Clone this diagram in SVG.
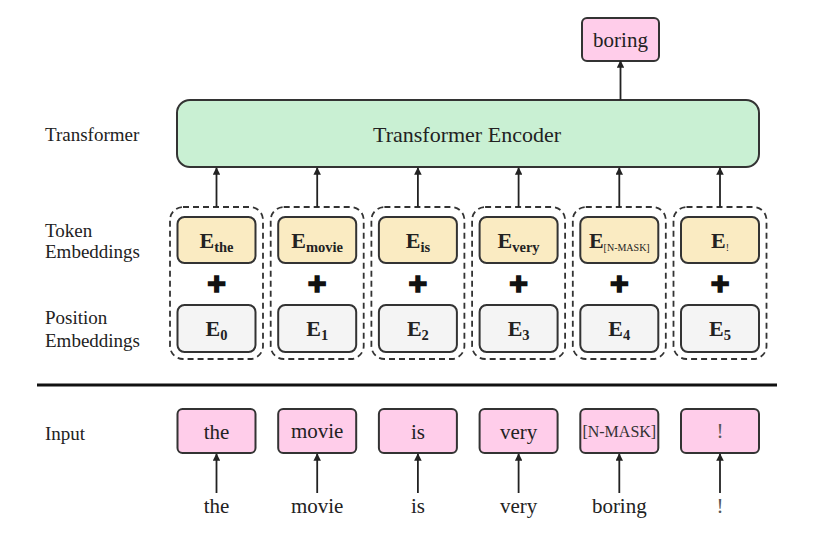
<svg xmlns="http://www.w3.org/2000/svg" width="835" height="538" viewBox="0 0 835 538">
<style>
  .lbl{font-family:"Liberation Serif","Times New Roman",serif;font-size:19px;fill:#222}
  .word{font-family:"Liberation Serif","Times New Roman",serif;font-size:21px;fill:#222;text-anchor:middle}
  .enc{font-family:"Liberation Serif","Times New Roman",serif;font-size:22px;fill:#222;text-anchor:middle}
  .emb{font-family:"Liberation Serif","Times New Roman",serif;font-size:22px;font-weight:bold;fill:#222;text-anchor:middle}
  .sub{font-size:14.5px}
  .tiny{font-size:10px;font-weight:normal}
  .plus{font-family:"Liberation Sans",Arial,sans-serif;font-size:32px;font-weight:bold;fill:#111;stroke:#111;stroke-width:1.6;text-anchor:middle}
  .dash{fill:none;stroke:#333;stroke-width:1.8;stroke-dasharray:6 4}
  .tok{fill:#FAEBC2;stroke:#333;stroke-width:2}
  .pos{fill:#F4F4F4;stroke:#333;stroke-width:2}
  .pink{fill:#FFCDEA;stroke:#333;stroke-width:2}
  .green{fill:#C9F0D3;stroke:#333;stroke-width:2}
  .arr{stroke:#222;stroke-width:1.8;fill:none;marker-end:url(#ah)}
</style>
<defs>
  <marker id="ah" viewBox="0 0 10 10" refX="9" refY="5" markerWidth="4.2" markerHeight="4.2" orient="auto" markerUnits="strokeWidth">
    <path d="M0,0 L10,5 L0,10 z" fill="#222"/>
  </marker>
</defs>
<rect width="835" height="538" fill="#fff"/>

<!-- side labels -->
<g id="labels">
  <text class="lbl" x="45" y="141">Transformer</text>
  <text class="lbl" x="45" y="237">Token</text>
  <text class="lbl" x="45" y="258">Embeddings</text>
  <text class="lbl" x="45" y="324">Position</text>
  <text class="lbl" x="45" y="347">Embeddings</text>
  <text class="lbl" x="45" y="440">Input</text>
</g>

<line id="separator" x1="37" y1="385" x2="777" y2="385" stroke="#111" stroke-width="3"/>

<g id="output">
  <rect class="pink" x="582" y="18" width="77" height="43" rx="5"/>
  <text class="word" x="620.5" y="47">boring</text>
</g>

<g id="encoder">
  <rect class="green" x="177" y="100" width="582" height="67" rx="13"/>
  <text class="enc" x="467" y="142">Transformer Encoder</text>
</g>

<g id="col0">
  <rect class="dash" x="170" y="207" width="93" height="152" rx="13"/>
  <rect class="tok" x="177.5" y="217" width="78" height="46" rx="7"/>
  <text class="emb" x="216.5" y="248">E<tspan class="sub" dy="4">the</tspan></text>
  <text class="plus" x="216.5" y="294">+</text>
  <rect class="pos" x="177.5" y="305" width="78" height="47" rx="7"/>
  <text class="emb" x="216.5" y="336">E<tspan class="sub" dy="4">0</tspan></text>
</g>
<g id="col1">
  <rect class="dash" x="270.7" y="207" width="93" height="152" rx="13"/>
  <rect class="tok" x="278.2" y="217" width="78" height="46" rx="7"/>
  <text class="emb" x="317.2" y="248">E<tspan class="sub" dy="4">movie</tspan></text>
  <text class="plus" x="317.2" y="294">+</text>
  <rect class="pos" x="278.2" y="305" width="78" height="47" rx="7"/>
  <text class="emb" x="317.2" y="336">E<tspan class="sub" dy="4">1</tspan></text>
</g>
<g id="col2">
  <rect class="dash" x="371.4" y="207" width="93" height="152" rx="13"/>
  <rect class="tok" x="378.9" y="217" width="78" height="46" rx="7"/>
  <text class="emb" x="417.9" y="248">E<tspan class="sub" dy="4">is</tspan></text>
  <text class="plus" x="417.9" y="294">+</text>
  <rect class="pos" x="378.9" y="305" width="78" height="47" rx="7"/>
  <text class="emb" x="417.9" y="336">E<tspan class="sub" dy="4">2</tspan></text>
</g>
<g id="col3">
  <rect class="dash" x="472.1" y="207" width="93" height="152" rx="13"/>
  <rect class="tok" x="479.6" y="217" width="78" height="46" rx="7"/>
  <text class="emb" x="518.6" y="248">E<tspan class="sub" dy="4">very</tspan></text>
  <text class="plus" x="518.6" y="294">+</text>
  <rect class="pos" x="479.6" y="305" width="78" height="47" rx="7"/>
  <text class="emb" x="518.6" y="336">E<tspan class="sub" dy="4">3</tspan></text>
</g>
<g id="col4">
  <rect class="dash" x="572.8" y="207" width="93" height="152" rx="13"/>
  <rect class="tok" x="580.3" y="217" width="78" height="46" rx="7"/>
  <text class="emb" x="619.3" y="248">E<tspan class="sub tiny" dy="3">[N-MASK]</tspan></text>
  <text class="plus" x="619.3" y="294">+</text>
  <rect class="pos" x="580.3" y="305" width="78" height="47" rx="7"/>
  <text class="emb" x="619.3" y="336">E<tspan class="sub" dy="4">4</tspan></text>
</g>
<g id="col5">
  <rect class="dash" x="673.5" y="207" width="93" height="152" rx="13"/>
  <rect class="tok" x="681" y="217" width="78" height="46" rx="7"/>
  <text class="emb" x="720" y="248">E<tspan class="sub tiny" dy="3">!</tspan></text>
  <text class="plus" x="720" y="294">+</text>
  <rect class="pos" x="681" y="305" width="78" height="47" rx="7"/>
  <text class="emb" x="720" y="336">E<tspan class="sub" dy="4">5</tspan></text>
</g>

<g id="inputs">
  <g id="in0"><rect class="pink" x="177.5" y="409" width="78" height="44" rx="5"/><text class="word" x="216.5" y="439">the</text></g>
  <g id="in1"><rect class="pink" x="278.2" y="409" width="78" height="44" rx="5"/><text class="word" x="317.2" y="438">movie</text></g>
  <g id="in2"><rect class="pink" x="378.9" y="409" width="78" height="44" rx="5"/><text class="word" x="417.9" y="439">is</text></g>
  <g id="in3"><rect class="pink" x="479.6" y="409" width="78" height="44" rx="5"/><text class="word" x="518.6" y="439">very</text></g>
  <g id="in4"><rect class="pink" x="580.3" y="409" width="78" height="44" rx="5"/><text class="word" x="619.3" y="437" style="font-size:16px;fill:#333">[N-MASK]</text></g>
  <g id="in5"><rect class="pink" x="681" y="409" width="78" height="44" rx="5"/><text class="word" x="720" y="438" style="fill:#555">!</text></g>
</g>

<g id="words">
  <text class="word" x="216.5" y="513">the</text>
  <text class="word" x="317.2" y="513">movie</text>
  <text class="word" x="417.9" y="513">is</text>
  <text class="word" x="518.6" y="513">very</text>
  <text class="word" x="619.3" y="513">boring</text>
  <text class="word" x="720" y="513" style="fill:#555">!</text>
</g>

<g id="connectors">
  <line class="arr" x1="216.5" y1="207" x2="216.5" y2="168"/>
  <line class="arr" x1="317.2" y1="207" x2="317.2" y2="168"/>
  <line class="arr" x1="417.9" y1="207" x2="417.9" y2="168"/>
  <line class="arr" x1="518.6" y1="207" x2="518.6" y2="168"/>
  <line class="arr" x1="619.3" y1="207" x2="619.3" y2="168"/>
  <line class="arr" x1="720" y1="207" x2="720" y2="168"/>
  <line class="arr" x1="620.5" y1="100" x2="620.5" y2="61"/>
  <line class="arr" x1="216.5" y1="493" x2="216.5" y2="454"/>
  <line class="arr" x1="317.2" y1="493" x2="317.2" y2="454"/>
  <line class="arr" x1="417.9" y1="493" x2="417.9" y2="454"/>
  <line class="arr" x1="518.6" y1="493" x2="518.6" y2="454"/>
  <line class="arr" x1="619.3" y1="493" x2="619.3" y2="454"/>
  <line class="arr" x1="720" y1="493" x2="720" y2="454"/>
</g>
</svg>
